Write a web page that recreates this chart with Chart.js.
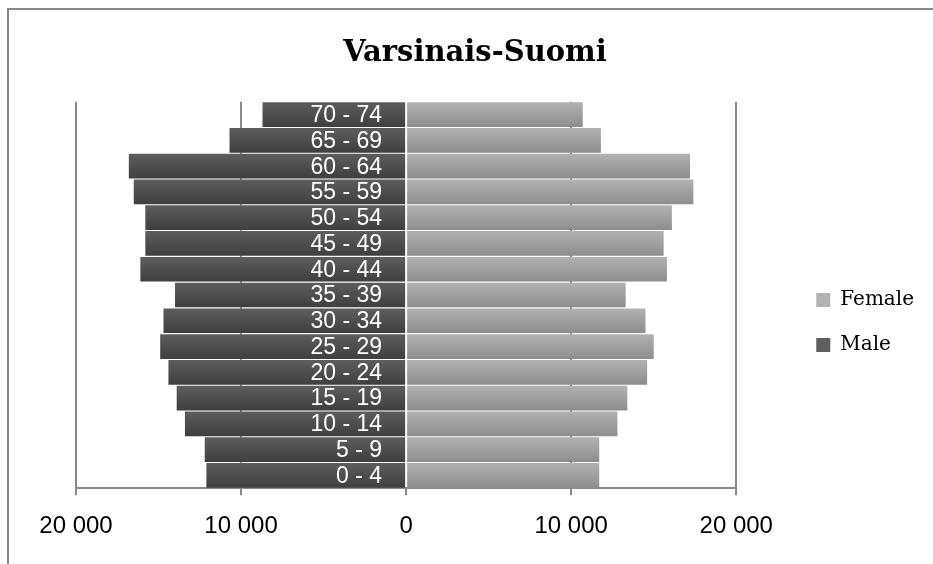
<!DOCTYPE html>
<html>
<head>
<meta charset="utf-8">
<script src="https://cdn.jsdelivr.net/npm/chart.js@4/dist/chart.umd.min.js"></script>
<style>
  body { margin: 0; background: #fff; }
  #wrap { position: relative; width: 933px; height: 564px; }
  #frame { position: absolute; left: 7px; top: 8px; right: 0; bottom: 0; border-left: 2px solid #888; border-top: 2px solid #888; }
  canvas { position: absolute; left: 0; top: 0; }
</style>
</head>
<body>
<div id="wrap">
  <div id="frame"></div>
  <canvas id="pyramid" width="933" height="564"></canvas>
</div>
<script>
// Väestöpyramidi, Varsinais-Suomi
const ageGroups = ['0 - 4', '5 - 9', '10 - 14', '15 - 19', '20 - 24', '25 - 29', '30 - 34',
  '35 - 39', '40 - 44', '45 - 49', '50 - 54', '55 - 59', '60 - 64', '65 - 69', '70 - 74'];
const male = [12100, 12200, 13400, 13900, 14400, 14900, 14700, 14000, 16100, 15800, 15800, 16500, 16800, 10700, 8700];
const female = [11700, 11700, 12800, 13400, 14600, 15000, 14500, 13300, 15800, 15600, 16100, 17400, 17200, 11800, 10700];
const xTickLabels = ['20 000', '10 000', '0', '10 000', '20 000'];

Chart.defaults.font.family = "'Liberation Sans', Arial, sans-serif";
Chart.defaults.color = '#000';

// Excel-tyylinen liukuväri jokaiselle palkille
function barFill(light, dark, flat) {
    return function (ctx) {
        const yScale = ctx.chart.scales.y;
        if (ctx.type !== 'data' || !yScale) return flat;
        const c = yScale.getPixelForValue(ctx.dataIndex);
        const half = yScale.height / ageGroups.length / 2;
        if (!isFinite(c) || !isFinite(half) || half <= 0) return flat;
        const g = ctx.chart.ctx.createLinearGradient(0, c - half, 0, c + half);
        g.addColorStop(0, light);
        g.addColorStop(1, dark);
        return g;
    };
}

// ikäryhmien nimet keskelle, miesten palkin päälle
const ageLabels = {
    id: 'ageLabels',
    afterDatasetsDraw(chart) {
        const c = chart.ctx;
        const x0 = chart.scales.x.getPixelForValue(0);
        c.save();
        c.font = "23px 'Liberation Sans', Arial, sans-serif";
        c.fillStyle = '#fff';
        c.textAlign = 'right';
        c.textBaseline = 'middle';
        ageGroups.forEach((g, i) => {
            c.fillText(g, x0 - 24, chart.scales.y.getPixelForValue(i) + 1);
        });
        c.restore();
    }
};

const ctx = document.getElementById('pyramid').getContext('2d');
new Chart(ctx, {
    type: 'bar',
    data: {
        labels: ageGroups,
        datasets: [{
            label: 'Male',
            data: male.map(v => -v),
            backgroundColor: barFill('#5e5e5e', '#3e3e3e', '#4f4f4f'),
            barPercentage: 0.96,
            categoryPercentage: 1
        }, {
            label: 'Female',
            data: female,
            backgroundColor: barFill('#b2b2b2', '#8c8c8c', '#a2a2a2'),
            barPercentage: 0.96,
            categoryPercentage: 1
        }]
    },
    plugins: [ageLabels],
    options: {
        indexAxis: 'y',
        responsive: false,
        animation: false,
        layout: { padding: { top: 10, bottom: 6, left: 26, right: 9 } },
        scales: {
            x: {
                stacked: true,
                min: -20000,
                max: 20000,
                ticks: {
                    stepSize: 10000,
                    padding: 17,
                    font: { size: 24 },
                    color: '#000',
                    callback: (value, index) => xTickLabels[index]
                },
                grid: {
                    color: c => (c.tick && c.tick.value === 0 ? 'rgba(0,0,0,0)' : '#8a8a8a'),
                    tickColor: '#8a8a8a',
                    lineWidth: 2,
                    tickLength: 7
                },
                border: { color: '#8a8a8a', width: 2 }
            },
            y: {
                stacked: true,
                reverse: true,
                display: false
            },
            lpad: {
                type: 'linear',
                position: 'left',
                grid: { display: false, drawTicks: false },
                border: { display: false },
                ticks: { display: false },
                afterFit: s => { s.width = 50; }
            },
            gap: {
                type: 'linear',
                position: 'right',
                grid: { display: false, drawTicks: false },
                border: { display: false },
                ticks: { display: false },
                afterFit: s => { s.width = 55; }
            }
        },
        plugins: {
            title: {
                display: true,
                text: 'Varsinais-Suomi',
                color: '#000',
                font: { family: "'DejaVu Serif', serif", size: 29, weight: 'bold' },
                padding: { top: 26, bottom: 31 }
            },
            legend: {
                position: 'right',
                fullSize: false,
                reverse: true,
                title: { display: true, text: '', padding: { top: 0, bottom: 40.6 } },
                labels: {
                    boxWidth: 14,
                    boxHeight: 14,
                    padding: 25,
                    color: '#000',
                    font: { family: "'DejaVu Serif', serif", size: 20 }
                }
            },
            tooltip: { enabled: false }
        }
    }
});
</script>
</body>
</html>
